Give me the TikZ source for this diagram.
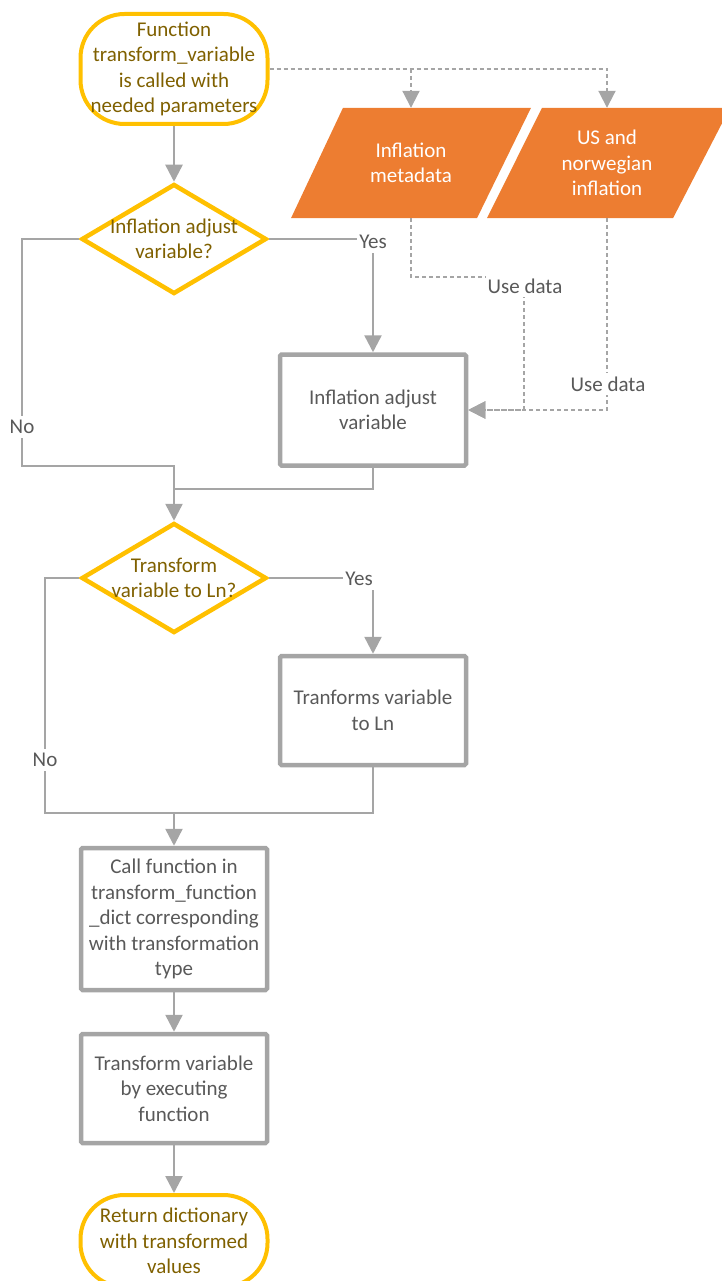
\documentclass[tikz,border=0pt]{standalone}
\usepackage{fontspec}
\setmainfont{Carlito}
\usetikzlibrary{shapes.geometric,arrows.meta,backgrounds}
\definecolor{amber}{HTML}{FFC000}
\definecolor{olivetext}{HTML}{7F6000}
\definecolor{linegray}{HTML}{A5A5A5}
\definecolor{txtgray}{HTML}{595959}
\definecolor{dataorange}{HTML}{ED7D31}

\begin{document}
\begin{tikzpicture}[x=1pt,y=-1pt,
  every node/.style={font=\fontsize{21}{25.5}\selectfont, align=center, inner sep=0pt},
  terminal/.style={draw=amber, line width=4pt, rounded corners=44pt, minimum width=187pt, text=olivetext},
  decision/.style={diamond, draw=amber, line width=4.5pt, minimum width=185pt, minimum height=110pt},
  qtext/.style={text=olivetext},
  process/.style={draw=linegray, line width=4.5pt, rounded corners=1.5pt, minimum width=186pt, text=txtgray},
  datanode/.style={minimum width=240pt, minimum height=110pt, text=white},
  flow/.style={draw=linegray, line width=2.5pt, -{Triangle[length=17pt,width=17pt]}},
  link/.style={draw=linegray, line width=2.5pt},
  dataflow/.style={draw=linegray, line width=2pt, dash pattern=on 4pt off 3pt, -{Triangle[length=17pt,width=17pt]}},
  lbl/.style={fill=white, text=txtgray, inner xsep=2pt, inner ysep=4pt}
]
\useasboundingbox (0,0) rectangle (721,1281);

% main column
\node[terminal, minimum height=110pt] (s) at (174,69)
  {Function\\transform\_variable\\is called with\\needed parameters};
\node[decision, label={[qtext]center:{Inflation adjust\\variable?}}] (d1) at (174,239) {};
\node[process, minimum height=111pt] (b1) at (373,410) {Inflation adjust\\variable};
\node[decision, label={[qtext]center:{Transform\\variable to Ln?}}] (d2) at (174,578) {};
\node[process, minimum height=109pt] (b2) at (373,710.5) {Tranforms variable\\to Ln};
\node[process, minimum height=142pt] (b3) at (174,919)
  {Call function in\\transform\_function\\\_dict corresponding\\with transformation\\type};
\node[process, minimum height=109pt] (b4) at (174,1088.5) {Transform variable\\by executing\\function};
\node[terminal, minimum height=92pt] (e) at (174,1241) {Return dictionary\\with transformed\\values};

% data sources
\node[datanode] (p1) at (411,163) {Inflation\\metadata};
\node[datanode] (p2) at (607,163) {US and\\norwegian\\inflation};
\begin{scope}[on background layer]
  \fill[dataorange] ([xshift=-68pt]p1.north) -- ([xshift=120pt]p1.north)
    -- ([xshift=66pt]p1.south) -- ([xshift=-120pt]p1.south) -- cycle;
  \fill[dataorange] ([xshift=-65pt]p2.north) -- ([xshift=123pt]p2.north)
    -- ([xshift=66pt]p2.south) -- ([xshift=-120pt]p2.south) -- cycle;
\end{scope}

% bend points
\coordinate (n1) at (22,466);
\coordinate (j1) at (174,489);
\coordinate (n2) at (45,813);
\coordinate (j2) at (174,813);
\coordinate (c1) at (524,277);

% control flow
\draw[flow] (s.south) -- (d1.north);
\draw[flow] (d1.east) -| (b1.north);
\draw[flow] (d1.west) -| (n1) -| (d2.north);
\draw[link] (b1.south) |- (j1);
\draw[flow] (d2.east) -| (b2.north);
\draw[flow] (d2.west) -| (n2) -| (b3.north);
\draw[link] (b2.south) |- (j2);
\draw[flow] (b3.south) -- (b4.north);
\draw[flow] (b4.south) -- (e.north);

% data flow
\draw[dataflow] (s.east) -| (p2.north);
\draw[dataflow] (s.east -| p1.north) -- (p1.north);
\draw[dataflow] (p1.south) |- (c1) |- (b1.east);
\draw[dataflow] (p2.south) |- (b1.east);

% branch and link labels
\node[lbl] (y1) at (373,242) {Yes};
\node[lbl] (no1) at (22,427) {No};
\node[lbl] (y2) at (359,579) {Yes};
\node[lbl] (no2) at (45,760) {No};
\node[lbl] (u1) at (525,286) {Use data};
\node[lbl] (u2) at (608,384) {Use data};
\end{tikzpicture}
\end{document}
